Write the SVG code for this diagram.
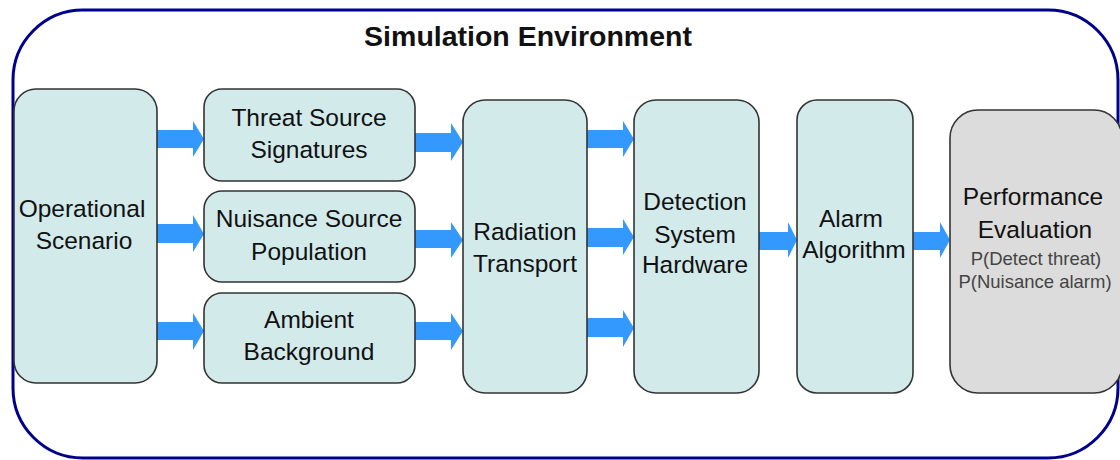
<svg xmlns="http://www.w3.org/2000/svg" width="1120" height="460" viewBox="0 0 1120 460">
<style>
.frame{fill:#ffffff;stroke:#00008b;stroke-width:3}
.box{fill:#d3eaeb;stroke:#333333;stroke-width:1.6}
.grey{fill:#dcdcdc;stroke:#333333;stroke-width:1.6}
.t{font-family:"Liberation Sans",Arial,sans-serif;font-size:24.5px;fill:#111111;text-anchor:middle}
.s{font-family:"Liberation Sans",Arial,sans-serif;font-size:18.5px;fill:#444444;text-anchor:middle}
.title{font-family:"Liberation Sans",Arial,sans-serif;font-size:28.5px;font-weight:bold;fill:#111111;text-anchor:middle}
.arr{fill:#3399ff}
</style>
<rect class="frame" x="13" y="10" width="1105" height="448" rx="70" ry="70"/>
<text class="title" x="528" y="46">Simulation Environment</text>
<g id="connectors">
<polygon class="arr" points="157,130 193,130 193,121 204,139 193,157 193,148 157,148"/>
<polygon class="arr" points="157,224 193,224 193,215 204,234 193,252 193,243 157,243"/>
<polygon class="arr" points="157,322 193,322 193,313 204,331 193,350 193,340 157,340"/>
<polygon class="arr" points="415,133 451,133 451,123 463,142 451,161 451,152 415,152"/>
<polygon class="arr" points="415,230 451,230 451,222 463,240 451,258 451,248 415,248"/>
<polygon class="arr" points="415,322 451,322 451,313 463,331 451,350 451,340 415,340"/>
<polygon class="arr" points="587,130 623,130 623,121 634,139 623,157 623,148 587,148"/>
<polygon class="arr" points="587,228 623,228 623,219 634,237 623,255 623,247 587,247"/>
<polygon class="arr" points="587,318 623,318 623,310 634,328 623,347 623,337 587,337"/>
<polygon class="arr" points="759,232 788,232 788,222 797,240 788,258 788,250 759,250"/>
<polygon class="arr" points="913,232 940,232 940,222 950,240 940,258 940,250 913,250"/>
</g>
<g id="operational-scenario">
<rect class="box" x="14" y="89" width="143" height="294" rx="22"/>
<text class="t" x="82" y="217">Operational</text>
<text class="t" x="84" y="249">Scenario</text>
</g>
<g id="threat-source">
<rect class="box" x="204" y="89" width="211" height="92" rx="18"/>
<text class="t" x="309" y="126">Threat Source</text>
<text class="t" x="309" y="158">Signatures</text>
</g>
<g id="nuisance-source">
<rect class="box" x="204" y="191" width="211" height="91" rx="18"/>
<text class="t" x="309" y="227">Nuisance Source</text>
<text class="t" x="309" y="260">Population</text>
</g>
<g id="ambient-background">
<rect class="box" x="204" y="293" width="211" height="90" rx="18"/>
<text class="t" x="309" y="328">Ambient</text>
<text class="t" x="309" y="360">Background</text>
</g>
<g id="radiation-transport">
<rect class="box" x="463" y="100" width="124" height="293" rx="22"/>
<text class="t" x="525" y="240">Radiation</text>
<text class="t" x="525" y="272">Transport</text>
</g>
<g id="detection-hardware">
<rect class="box" x="634" y="100" width="125" height="293" rx="22"/>
<text class="t" x="695" y="210">Detection</text>
<text class="t" x="695" y="243">System</text>
<text class="t" x="695" y="273">Hardware</text>
</g>
<g id="alarm-algorithm">
<rect class="box" x="797" y="100" width="116" height="293" rx="20"/>
<text class="t" x="851" y="227">Alarm</text>
<text class="t" x="854" y="258">Algorithm</text>
</g>
<g id="performance-evaluation">
<rect class="grey" x="950" y="110" width="172" height="283" rx="28"/>
<text class="t" x="1033" y="205">Performance</text>
<text class="t" x="1035" y="238">Evaluation</text>
<text class="s" x="1036" y="265">P(Detect threat)</text>
<text class="s" x="1035" y="288">P(Nuisance alarm)</text>
</g>
</svg>
